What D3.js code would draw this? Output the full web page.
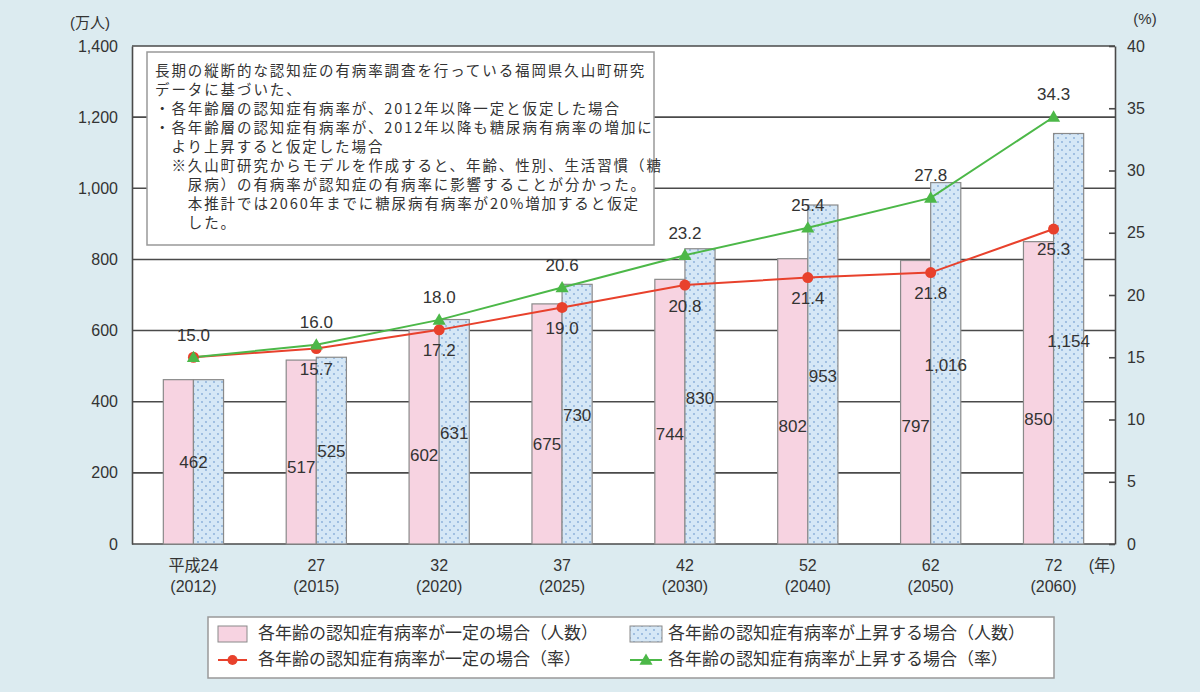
<!DOCTYPE html>
<html>
<head>
<meta charset="utf-8">
<script src="https://cdn.jsdelivr.net/npm/d3@7"></script>
<style>
  body { margin: 0; background: #dcebf0; }
  svg text { font-family: 'Liberation Sans', 'Noto Sans CJK JP', sans-serif; fill: #333; }
</style>
</head>
<body>
<div id="chart"></div>
<script>
// data
const yearLabels = ['平成24', '27', '32', '37', '42', '52', '62', '72'];
const westernYears = ['(2012)', '(2015)', '(2020)', '(2025)', '(2030)', '(2040)', '(2050)', '(2060)'];
const peopleConst = [462, 517, 602, 675, 744, 802, 797, 850];
const peopleRise = [462, 525, 631, 730, 830, 953, 1016, 1154];
const rateConst = [15.0, 15.7, 17.2, 19.0, 20.8, 21.4, 21.8, 25.3];
const rateRise = [15.0, 16.0, 18.0, 20.6, 23.2, 25.4, 27.8, 34.3];
const leftTicks = [0, 200, 400, 600, 800, 1000, 1200, 1400];
const rightTicks = [0, 5, 10, 15, 20, 25, 30, 35, 40];
const noteLines = [
    '長期の縦断的な認知症の有病率調査を行っている福岡県久山町研究',
    'データに基づいた、',
    '・各年齢層の認知症有病率が、2012年以降一定と仮定した場合',
    '・各年齢層の認知症有病率が、2012年以降も糖尿病有病率の増加に',
    '　より上昇すると仮定した場合',
    '　※久山町研究からモデルを作成すると、年齢、性別、生活習慣（糖',
    '　　尿病）の有病率が認知症の有病率に影響することが分かった。',
    '　　本推計では2060年までに糖尿病有病率が20%増加すると仮定',
    '　　した。'
];
const legendItems = [
    '各年齢の認知症有病率が一定の場合（人数）',
    '各年齢の認知症有病率が上昇する場合（人数）',
    '各年齢の認知症有病率が一定の場合（率）',
    '各年齢の認知症有病率が上昇する場合（率）'
];

const width = 1200, height = 692;
const pink = '#f7d3e1', blue = '#d5e7f6', red = '#e8412c', green = '#4cb848', grid = '#4a4a4a';

const svg = d3.select('#chart').append('svg')
    .attr('width', width)
    .attr('height', height);

const defs = svg.append('defs');
const pat = defs.append('pattern')
    .attr('id', 'dots')
    .attr('patternUnits', 'userSpaceOnUse')
    .attr('width', 8)
    .attr('height', 8);
pat.append('rect').attr('width', 8).attr('height', 8).attr('fill', blue);
pat.append('circle').attr('cx', 2).attr('cy', 2).attr('r', 0.9).attr('fill', '#86acd8');
pat.append('circle').attr('cx', 6).attr('cy', 6).attr('r', 0.9).attr('fill', '#86acd8');

const x = d3.scaleBand().domain(yearLabels).range([132, 1115]);
const yL = d3.scaleLinear().domain([0, 1400]).range([544, 46]);
const yR = d3.scaleLinear().domain([0, 40]).range([544, 46]);
const barW = x.bandwidth() * 0.245;
const cx = d => x(d) + x.bandwidth() / 2;

// plot background
svg.append('rect')
    .attr('x', x.range()[0]).attr('y', yL(1400))
    .attr('width', x.range()[1] - x.range()[0])
    .attr('height', yL(0) - yL(1400))
    .attr('fill', '#fff');

// gridlines
svg.append('g').selectAll('line').data(leftTicks).join('line')
    .attr('x1', x.range()[0]).attr('x2', x.range()[1])
    .attr('y1', d => yL(d)).attr('y2', d => yL(d))
    .attr('stroke', grid).attr('stroke-width', 1.6);

// left axis
const leftAxis = svg.append('g')
    .attr('transform', `translate(${x.range()[0]},0)`)
    .call(d3.axisLeft(yL).tickValues(leftTicks).tickSize(0).tickPadding(14).tickFormat(d3.format(',')));
leftAxis.select('.domain').attr('stroke', grid).attr('stroke-width', 1.6);
leftAxis.selectAll('text').style('font-size', '16px');

// right axis
const rightAxis = svg.append('g')
    .attr('transform', `translate(${x.range()[1]},0)`)
    .call(d3.axisRight(yR).tickValues(rightTicks).tickSizeInner(-6).tickSizeOuter(0).tickPadding(12));
rightAxis.select('.domain').attr('stroke', grid).attr('stroke-width', 1.6);
rightAxis.selectAll('.tick line').attr('stroke', grid).attr('stroke-width', 1.6);
rightAxis.selectAll('text').style('font-size', '16px');

svg.append('text').attr('x', 90).attr('y', 28).attr('text-anchor', 'middle')
    .style('font-size', '15px').text('(万人)');
svg.append('text').attr('x', 1145).attr('y', 24).attr('text-anchor', 'middle')
    .style('font-size', '15px').text('(%)');

// bars
svg.append('g').selectAll('rect').data(yearLabels).join('rect')
    .attr('x', (d) => cx(d) - barW)
    .attr('y', (d, i) => yL(peopleConst[i]))
    .attr('width', barW)
    .attr('height', (d, i) => yL(0) - yL(peopleConst[i]))
    .attr('fill', pink).attr('stroke', '#8a8a8a').attr('stroke-width', 1.2);

svg.append('g').selectAll('rect').data(yearLabels).join('rect')
    .attr('x', (d) => cx(d))
    .attr('y', (d, i) => yL(peopleRise[i]))
    .attr('width', barW)
    .attr('height', (d, i) => yL(0) - yL(peopleRise[i]))
    .attr('fill', 'url(#dots)').attr('stroke', '#8a8a8a').attr('stroke-width', 1.2);

// bar labels
const fmt = d3.format(',');
yearLabels.forEach((d, i) => {
    if (peopleConst[i] === peopleRise[i]) {
        svg.append('text').attr('x', cx(d)).attr('y', yL(peopleConst[i] * 0.49))
            .attr('text-anchor', 'middle').attr('dominant-baseline', 'middle')
            .style('font-size', '17px').text(fmt(peopleConst[i]));
        return;
    }
    svg.append('text').attr('x', cx(d) - barW / 2).attr('y', yL(peopleConst[i] * 0.41))
        .attr('text-anchor', 'middle').attr('dominant-baseline', 'middle')
        .style('font-size', '17px').text(fmt(peopleConst[i]));
    svg.append('text').attr('x', cx(d) + barW / 2).attr('y', yL(peopleRise[i] * 0.49))
        .attr('text-anchor', 'middle').attr('dominant-baseline', 'middle')
        .style('font-size', '17px').text(fmt(peopleRise[i]));
});

// lines
const lineR = d3.line().x((d, i) => cx(yearLabels[i])).y(d => yR(d));
svg.append('path').datum(rateConst).attr('d', lineR)
    .attr('fill', 'none').attr('stroke', red).attr('stroke-width', 2);
svg.append('path').datum(rateRise).attr('d', lineR)
    .attr('fill', 'none').attr('stroke', green).attr('stroke-width', 2);

svg.append('g').selectAll('circle').data(rateConst).join('circle')
    .attr('cx', (d, i) => cx(yearLabels[i])).attr('cy', d => yR(d))
    .attr('r', 5.5).attr('fill', red);
const tri = d3.symbol().type(d3.symbolTriangle).size(75);
svg.append('g').selectAll('path').data(rateRise).join('path')
    .attr('d', tri)
    .attr('transform', (d, i) => `translate(${cx(yearLabels[i])},${yR(d) + 1})`)
    .attr('fill', green);

// line labels (red below, green above; shared first point labelled once)
yearLabels.forEach((d, i) => {
    if (rateConst[i] !== rateRise[i]) {
        svg.append('text').attr('x', cx(d)).attr('y', yR(rateConst[i]) + 22)
            .attr('text-anchor', 'middle').attr('dominant-baseline', 'middle')
            .style('font-size', '17px').text(rateConst[i].toFixed(1));
    }
    svg.append('text').attr('x', cx(d)).attr('y', yR(rateRise[i]) - 21)
        .attr('text-anchor', 'middle').attr('dominant-baseline', 'middle')
        .style('font-size', '17px').text(rateRise[i].toFixed(1));
});

// x labels
const xl = svg.append('g');
yearLabels.forEach((d, i) => {
    xl.append('text').attr('x', cx(d)).attr('y', 567)
        .attr('text-anchor', 'middle').attr('dominant-baseline', 'middle')
        .style('font-size', '16px').text(d);
    xl.append('text').attr('x', cx(d)).attr('y', 588)
        .attr('text-anchor', 'middle').attr('dominant-baseline', 'middle')
        .style('font-size', '16px').text(westernYears[i]);
});
xl.append('text').attr('x', 1102).attr('y', 567)
    .attr('text-anchor', 'middle').attr('dominant-baseline', 'middle')
    .style('font-size', '16px').text('(年)');

// note box
svg.append('rect').attr('x', 147).attr('y', 52).attr('width', 507).attr('height', 193)
    .attr('fill', '#fff').attr('stroke', '#999').attr('stroke-width', 1.5);
svg.append('g').selectAll('text').data(noteLines).join('text')
    .attr('x', 155).attr('y', (d, i) => 72 + i * 19)
    .attr('dominant-baseline', 'middle')
    .style('font-size', '14.5px')
    .style('letter-spacing', '1.9px')
    .style('font-family', "'Noto Sans CJK JP', sans-serif")
    .text(d => d);

// legend
const lg = svg.append('g');
lg.append('rect').attr('x', 208).attr('y', 617).attr('width', 846).attr('height', 61)
    .attr('fill', '#fff').attr('stroke', '#999').attr('stroke-width', 1.5);
const colX = [218, 630], rowY = [634, 660];
lg.append('rect').attr('x', colX[0]).attr('y', rowY[0] - 8).attr('width', 29).attr('height', 16)
    .attr('fill', pink).attr('stroke', '#8a8a8a');
lg.append('rect').attr('x', colX[1]).attr('y', rowY[0] - 8).attr('width', 32).attr('height', 16)
    .attr('fill', 'url(#dots)').attr('stroke', '#8a8a8a');
lg.append('line').attr('x1', colX[0]).attr('x2', colX[0] + 29).attr('y1', rowY[1]).attr('y2', rowY[1])
    .attr('stroke', red).attr('stroke-width', 2);
lg.append('circle').attr('cx', colX[0] + 14.5).attr('cy', rowY[1]).attr('r', 5).attr('fill', red);
lg.append('line').attr('x1', colX[1]).attr('x2', colX[1] + 32).attr('y1', rowY[1]).attr('y2', rowY[1])
    .attr('stroke', green).attr('stroke-width', 2);
lg.append('path').attr('d', tri).attr('transform', `translate(${colX[1] + 16},${rowY[1] + 1})`).attr('fill', green);
legendItems.forEach((t, i) => {
    lg.append('text')
        .attr('x', i % 2 === 0 ? 258 : 668)
        .attr('y', rowY[Math.floor(i / 2)])
        .attr('dominant-baseline', 'middle')
        .style('font-size', '17px')
        .style('font-family', "'Noto Sans CJK JP', sans-serif")
        .text(t);
});
</script>
</body>
</html>
